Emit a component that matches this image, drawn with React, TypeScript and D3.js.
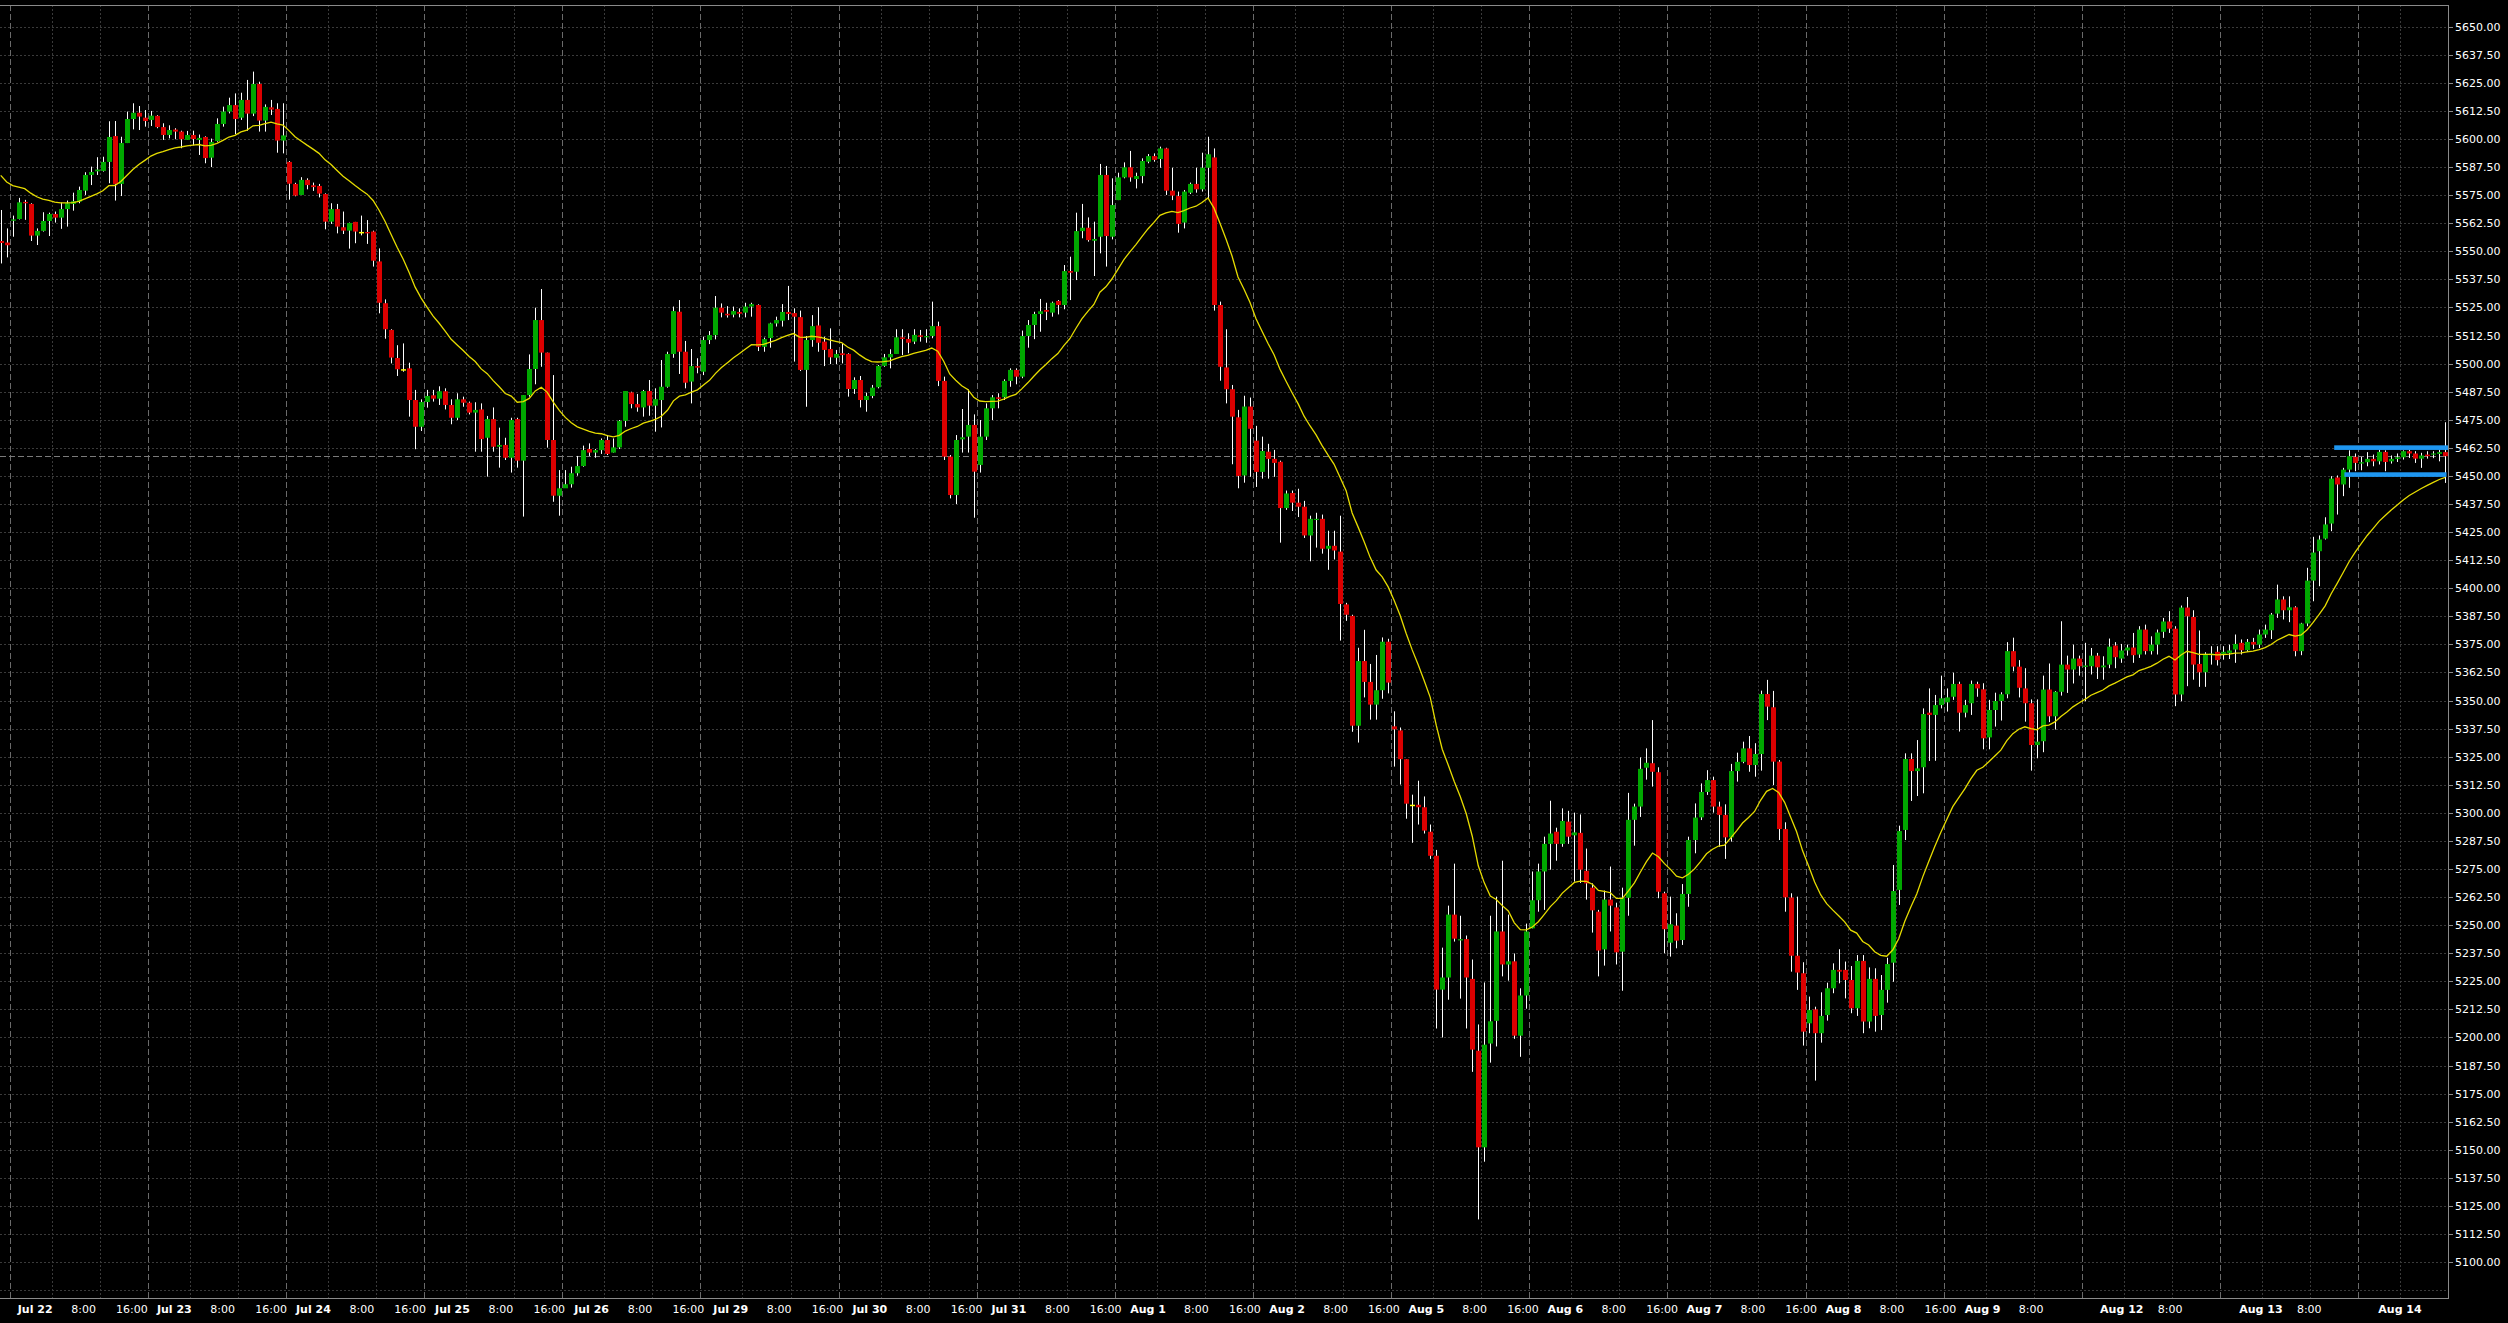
import React, { useMemo } from "react";
import * as d3 from "d3";

// ---- hourly OHLC bars, Jul 19 (late) .. Aug 14 (early) ----
const opens = [
  5554.6, 5553.9, 5563.6, 5564.4, 5572.0, 5571.1, 5557.0, 5559.1, 5563.5, 5566.6,
  5565.0, 5568.8, 5571.1, 5572.1, 5577.0, 5584.0, 5585.6, 5585.8, 5589.8, 5601.3,
  5580.0, 5598.2, 5608.9, 5611.7, 5609.5, 5608.5, 5610.3, 5605.3, 5601.8, 5604.2,
  5603.3, 5599.6, 5601.8, 5599.6, 5600.9, 5591.7, 5599.1, 5606.7, 5612.2, 5615.1,
  5609.5, 5617.4, 5611.3, 5624.5, 5608.2, 5614.1, 5613.4, 5599.3, 5589.8, 5580.0,
  5575.1, 5581.8, 5579.4, 5579.1, 5575.5, 5563.2, 5568.8, 5560.7, 5559.2, 5563.1,
  5558.3, 5558.6, 5558.8, 5545.5, 5526.9, 5515.0, 5502.5, 5497.2, 5497.9, 5483.8,
  5471.9, 5482.9, 5485.9, 5484.4, 5487.7, 5481.6, 5475.9, 5484.1, 5482.6, 5478.2,
  5479.6, 5467.0, 5475.3, 5463.0, 5463.8, 5458.1, 5475.3, 5456.8, 5486.0, 5497.6,
  5519.4, 5504.9, 5466.0, 5441.2, 5444.5, 5446.3, 5451.2, 5454.4, 5462.0, 5460.4,
  5461.5, 5466.0, 5460.4, 5462.7, 5474.5, 5487.2, 5482.0, 5480.5, 5487.8, 5481.3,
  5483.8, 5489.7, 5504.3, 5523.1, 5505.3, 5492.0, 5498.9, 5496.4, 5510.5, 5512.7,
  5524.9, 5522.2, 5521.8, 5523.0, 5522.7, 5525.4, 5526.1, 5507.5, 5511.4, 5517.9,
  5519.1, 5523.0, 5522.5, 5520.7, 5497.2, 5510.5, 5517.0, 5509.8, 5506.5, 5502.6,
  5504.6, 5504.3, 5488.7, 5492.7, 5483.8, 5485.6, 5489.5, 5499.0, 5502.8, 5504.3,
  5511.7, 5511.0, 5509.8, 5512.6, 5511.7, 5512.3, 5516.7, 5492.3, 5458.6, 5441.5,
  5466.3, 5467.5, 5472.7, 5454.9, 5467.5, 5480.1, 5485.0, 5485.0, 5492.3, 5497.2,
  5494.2, 5512.3, 5517.2, 5522.1, 5523.9, 5522.7, 5527.9, 5526.1, 5541.2, 5540.9,
  5559.0, 5560.5, 5554.7, 5556.5, 5584.0, 5556.5, 5572.8, 5582.9, 5587.4, 5582.2,
  5583.5, 5589.9, 5592.4, 5591.1, 5595.8, 5577.0, 5574.6, 5562.8, 5576.1, 5580.0,
  5577.6, 5587.2, 5591.8, 5526.1, 5498.3, 5488.6, 5476.1,
  5450.2, 5480.9, 5465.7, 5451.8, 5460.8, 5457.6, 5456.3, 5435.7, 5442.4, 5438.1,
  5436.3, 5423.5, 5430.4, 5430.9, 5417.6, 5418.9, 5416.3, 5392.8, 5387.7, 5338.8,
  5367.6, 5358.3, 5348.2, 5354.6, 5376.2, 5338.5, 5336.7, 5323.9, 5303.3, 5303.6,
  5302.5, 5291.6, 5280.9, 5221.3, 5226.7, 5254.7, 5243.2, 5243.8, 5226.1, 5194.1,
  5151.1, 5197.3, 5207.4, 5247.2, 5232.5, 5233.9, 5200.8, 5218.7, 5248.6, 5261.1,
  5273.9, 5286.2, 5291.6, 5286.2, 5296.1, 5290.0, 5291.1, 5274.2, 5266.7, 5256.0,
  5239.2, 5261.4, 5257.9, 5238.2, 5262.2, 5296.9, 5302.8, 5320.1,
  5322.1, 5318.1, 5264.2, 5242.2, 5249.8, 5243.4, 5263.9, 5287.9, 5298.0, 5309.3,
  5314.6, 5302.8, 5299.1, 5289.1, 5318.6, 5322.7, 5328.7, 5321.3, 5326.2, 5352.9,
  5347.0, 5322.8, 5292.8, 5262.3, 5236.4, 5228.6, 5206.3, 5212.5, 5201.9, 5210.0,
  5221.9, 5230.1, 5230.1, 5225.6, 5213.0, 5234.1, 5207.1, 5226.1, 5210.0, 5221.2,
  5233.3, 5265.7, 5292.4, 5324.0, 5318.6, 5320.3, 5344.6, 5343.6, 5348.0, 5349.2,
  5351.7, 5357.4, 5344.6, 5348.8, 5357.4, 5355.0, 5333.6, 5345.8, 5349.8, 5352.8,
  5372.0, 5365.1, 5355.4, 5348.8, 5330.2, 5331.9, 5354.9, 5343.0,
  5353.9, 5366.0, 5363.8, 5368.7, 5365.0, 5365.3, 5370.0, 5364.8, 5366.0, 5374.5,
  5368.7, 5372.3, 5373.6, 5370.5, 5381.6, 5372.0, 5374.9, 5380.6, 5385.2, 5382.0,
  5352.7, 5391.4, 5387.2, 5366.3, 5362.6, 5370.2, 5371.7, 5370.8, 5371.2, 5372.7,
  5375.7, 5372.4, 5376.1, 5374.9, 5379.4, 5381.3, 5388.7, 5395.0, 5390.2, 5391.5,
  5372.0, 5384.3, 5403.4, 5416.5, 5422.1, 5428.8, 5449.3, 5446.2, 5452.8, 5458.5,
  5455.5, 5456.1, 5457.6, 5456.5, 5460.7, 5456.5, 5457.6, 5458.3, 5461.0, 5460.0,
  5457.7, 5459.5, 5459.5, 5459.8, 5460.6,
];

const highs = [
  5568.4, 5560.2, 5565.9, 5573.8, 5572.9, 5571.4, 5560.2, 5567.4, 5567.2, 5567.7,
  5571.7, 5572.6, 5576.1, 5578.8, 5585.2, 5587.7, 5591.9, 5592.1, 5607.9, 5608.0,
  5601.0, 5612.2, 5615.9, 5614.7, 5612.9, 5612.5, 5610.6, 5607.0, 5606.1, 5604.8,
  5603.7, 5603.6, 5603.7, 5602.0, 5601.2, 5600.2, 5609.2, 5614.4, 5618.4, 5620.3,
  5620.6, 5626.3, 5630.0, 5625.5, 5615.4, 5617.4, 5615.9, 5615.9, 5590.2, 5580.5,
  5583.0, 5582.5, 5580.6, 5580.0, 5575.8, 5571.4, 5571.1, 5567.7, 5562.8, 5563.1,
  5565.9, 5563.9, 5559.2, 5551.3, 5528.6, 5515.3, 5508.2, 5509.0, 5500.4, 5488.3,
  5484.1, 5488.3, 5488.3, 5489.9, 5489.0, 5484.1, 5486.8, 5485.3, 5483.1, 5482.8,
  5482.3, 5476.7, 5480.5, 5471.5, 5467.0, 5475.9, 5475.9, 5486.0, 5504.1, 5524.9,
  5533.2, 5504.9, 5494.9, 5452.6, 5452.6, 5454.1, 5458.9, 5463.5, 5464.5, 5462.0,
  5466.7, 5468.2, 5466.7, 5474.9, 5487.8, 5487.5, 5486.5, 5488.3, 5492.7, 5489.0,
  5501.6, 5505.3, 5525.4, 5528.3, 5510.1, 5506.5, 5502.4, 5512.0, 5514.5, 5530.1,
  5526.8, 5525.6, 5525.4, 5524.6, 5527.1, 5527.1, 5526.4, 5511.6, 5518.2, 5520.9,
  5526.5, 5534.6, 5524.6, 5523.6, 5512.3, 5521.6, 5525.1, 5512.0, 5515.7, 5506.1,
  5509.0, 5504.6, 5493.9, 5494.5, 5487.1, 5490.5, 5499.4, 5504.3, 5506.4, 5515.3,
  5515.3, 5513.5, 5515.3, 5515.0, 5515.3, 5527.6, 5518.7, 5494.2, 5459.3, 5468.2,
  5479.8, 5488.5, 5477.4, 5474.9, 5482.3, 5486.0, 5486.8, 5493.0, 5497.9, 5497.9,
  5514.7, 5519.4, 5523.1, 5528.8, 5527.1, 5527.6, 5528.3, 5543.9, 5547.6, 5567.2,
  5571.1, 5565.1, 5563.2, 5588.9, 5588.0, 5582.5, 5585.0, 5589.6, 5594.7, 5585.0,
  5591.4, 5593.3, 5593.6, 5596.6, 5596.1, 5587.2, 5576.6, 5577.3, 5580.6, 5587.2,
  5593.9, 5601.0, 5595.8, 5527.6, 5515.3, 5490.5, 5479.4,
  5485.7, 5484.9, 5472.3, 5467.5, 5464.3, 5461.6, 5456.8, 5443.5, 5443.5, 5444.3,
  5438.9, 5432.3, 5433.6, 5432.8, 5425.6, 5425.6, 5432.3, 5393.5, 5388.2, 5373.5,
  5381.5, 5366.3, 5370.3, 5378.1, 5377.5, 5345.2, 5338.0, 5323.9, 5308.1, 5314.3,
  5307.3, 5294.8, 5283.5, 5240.0, 5258.7, 5277.4, 5254.2, 5245.4, 5234.7, 5205.8,
  5224.5, 5254.2, 5262.7, 5278.7, 5254.7, 5237.4, 5221.9, 5250.7, 5273.9, 5277.4,
  5289.4, 5305.4, 5293.4, 5302.0, 5300.9, 5300.1, 5299.3, 5284.1, 5268.6, 5256.8,
  5265.4, 5276.1, 5260.0, 5266.7, 5308.9, 5304.1, 5324.7, 5328.7,
  5341.3, 5320.3, 5264.9, 5262.7, 5255.3, 5268.3, 5289.4, 5304.2, 5313.1, 5319.0,
  5316.1, 5305.0, 5303.8, 5321.8, 5326.8, 5331.7, 5334.2, 5331.0, 5354.4, 5359.2,
  5354.3, 5323.5, 5295.8, 5264.2, 5262.7, 5233.5, 5218.2, 5213.7, 5220.1, 5224.4,
  5233.0, 5239.3, 5233.8, 5231.8, 5236.7, 5236.7, 5231.2, 5230.8, 5227.8, 5235.5,
  5276.8, 5294.3, 5326.5, 5326.5, 5332.4, 5346.5, 5355.4, 5352.5, 5361.1, 5355.4,
  5362.4, 5358.4, 5350.3, 5358.9, 5358.4, 5357.7, 5350.3, 5353.5, 5353.7, 5376.0,
  5378.0, 5368.0, 5364.4, 5350.5, 5350.5, 5361.1, 5366.5, 5354.2,
  5385.3, 5370.0, 5374.9, 5370.0, 5375.7, 5373.4, 5371.2, 5369.7, 5377.6, 5376.0,
  5375.2, 5374.9, 5380.1, 5383.1, 5383.8, 5378.6, 5381.6, 5386.8, 5389.8, 5383.1,
  5392.3, 5396.1, 5390.2, 5381.2, 5371.5, 5374.2, 5374.2, 5374.2, 5374.9, 5379.4,
  5377.2, 5377.4, 5377.9, 5381.6, 5383.8, 5389.0, 5401.6, 5396.4, 5396.4, 5392.0,
  5384.6, 5409.1, 5422.9, 5423.5, 5431.6, 5449.9, 5450.2, 5453.6, 5461.4, 5460.0,
  5458.5, 5460.6, 5459.5, 5461.7, 5461.4, 5459.1, 5460.0, 5461.4, 5461.7, 5461.0,
  5460.3, 5461.0, 5461.0, 5461.7, 5473.9,
];

const lows = [
  5544.6, 5547.3, 5556.5, 5564.2, 5564.0, 5554.6, 5552.8, 5558.8, 5556.8, 5562.8,
  5560.0, 5561.0, 5568.1, 5571.4, 5575.1, 5579.5, 5584.0, 5585.5, 5580.3, 5572.6,
  5574.6, 5598.2, 5604.3, 5604.0, 5605.5, 5605.8, 5604.8, 5599.6, 5600.3, 5599.9,
  5595.9, 5599.6, 5597.2, 5592.9, 5589.2, 5587.5, 5598.8, 5605.5, 5611.4, 5602.2,
  5608.5, 5603.7, 5610.2, 5603.3, 5603.3, 5610.7, 5593.9, 5593.6, 5573.0, 5574.5,
  5575.1, 5577.6, 5576.9, 5574.0, 5559.8, 5562.2, 5558.0, 5557.7, 5551.2, 5553.6,
  5557.1, 5553.3, 5543.2, 5522.4, 5511.1, 5500.1, 5494.5, 5496.4, 5476.4, 5461.9,
  5470.0, 5480.4, 5483.1, 5481.6, 5479.6, 5473.0, 5474.9, 5480.8, 5477.4, 5460.8,
  5460.8, 5449.7, 5460.8, 5453.7, 5457.1, 5451.5, 5453.7, 5431.9, 5485.3, 5490.8,
  5498.6, 5462.6, 5438.5, 5432.3, 5444.8, 5444.8, 5450.1, 5454.1, 5458.9, 5458.1,
  5459.8, 5459.3, 5460.4, 5462.0, 5471.9, 5480.1, 5478.6, 5476.4, 5476.8, 5469.7,
  5471.6, 5489.3, 5502.6, 5495.4, 5489.0, 5482.3, 5495.7, 5494.9, 5508.7, 5510.8,
  5520.6, 5520.5, 5520.6, 5520.6, 5520.6, 5520.9, 5505.6, 5505.3, 5507.1, 5516.5,
  5516.5, 5519.4, 5500.9, 5496.7, 5480.8, 5507.5, 5505.3, 5498.9, 5499.8, 5499.8,
  5500.1, 5485.3, 5486.5, 5480.5, 5478.6, 5484.6, 5489.0, 5498.6, 5497.9, 5504.3,
  5503.8, 5504.6, 5508.7, 5509.8, 5509.3, 5511.3, 5490.0, 5457.1, 5440.0, 5437.5,
  5460.4, 5460.4, 5431.4, 5451.5, 5466.0, 5474.9, 5480.1, 5483.8, 5489.7, 5490.8,
  5493.5, 5507.1, 5510.9, 5514.2, 5519.4, 5520.9, 5521.9, 5524.2, 5528.3, 5537.2,
  5555.8, 5554.3, 5539.0, 5549.1, 5543.2, 5555.3, 5572.8, 5582.5, 5581.0, 5578.0,
  5580.3, 5589.2, 5589.9, 5587.2, 5575.1, 5572.8, 5558.3, 5560.2, 5575.5, 5576.1,
  5576.6, 5573.6, 5523.6, 5492.4, 5482.3, 5455.2, 5444.5,
  5447.0, 5449.6, 5445.1, 5448.8, 5448.8, 5449.6, 5420.3, 5434.9, 5434.4, 5431.7,
  5422.4, 5412.0, 5418.1, 5415.4, 5408.2, 5412.8, 5376.7, 5385.5, 5336.1, 5331.3,
  5351.4, 5341.5, 5341.5, 5350.8, 5353.2, 5320.6, 5312.6, 5297.4, 5286.7, 5294.8,
  5290.8, 5279.5, 5204.0, 5200.0, 5216.8, 5242.7, 5217.3, 5204.0, 5184.7, 5119.0,
  5144.7, 5188.8, 5196.0, 5227.2, 5225.3, 5199.4, 5191.4, 5212.8, 5248.6, 5256.0,
  5256.8, 5274.7, 5278.7, 5284.9, 5286.2, 5269.4, 5268.8, 5261.4, 5246.7, 5227.2,
  5232.0, 5247.2, 5232.5, 5220.8, 5254.2, 5285.4, 5298.2, 5314.8,
  5311.7, 5262.0, 5237.5, 5236.0, 5239.7, 5241.2, 5258.2, 5282.0, 5296.8, 5308.0,
  5300.1, 5284.9, 5279.5, 5287.2, 5313.9, 5322.1, 5318.3, 5316.1, 5318.8, 5341.3,
  5312.4, 5287.9, 5256.0, 5229.3, 5221.2, 5196.4, 5201.9, 5180.8, 5197.7, 5207.5,
  5219.7, 5224.1, 5217.4, 5210.8, 5209.6, 5201.9, 5204.1, 5202.6, 5203.3, 5215.5,
  5224.8, 5259.0, 5287.9, 5305.3, 5307.5, 5308.7, 5323.1, 5323.2, 5346.5, 5345.1,
  5350.3, 5336.2, 5342.5, 5343.6, 5351.7, 5328.3, 5328.3, 5338.4, 5341.1, 5351.0,
  5363.0, 5351.4, 5340.6, 5318.8, 5324.3, 5327.0, 5340.4, 5337.1,
  5352.2, 5353.4, 5357.6, 5361.1, 5349.7, 5361.6, 5359.6, 5359.3, 5364.4, 5364.4,
  5366.8, 5370.0, 5366.8, 5369.0, 5370.5, 5370.5, 5370.5, 5377.9, 5380.1, 5347.5,
  5349.7, 5356.4, 5359.3, 5356.1, 5356.1, 5366.0, 5365.6, 5368.2, 5368.5, 5366.8,
  5370.5, 5371.7, 5373.0, 5373.4, 5377.9, 5377.4, 5386.8, 5386.1, 5384.9, 5369.7,
  5370.2, 5383.1, 5394.2, 5400.9, 5421.7, 5425.4, 5432.8, 5441.0, 5444.7, 5452.1,
  5452.5, 5454.3, 5454.3, 5455.1, 5452.1, 5455.5, 5456.2, 5457.3, 5458.0, 5455.8,
  5453.6, 5457.7, 5457.9, 5456.5, 5446.9,
];

const closes = [
  5553.7, 5552.7, 5564.2, 5571.8, 5571.4, 5557.0, 5559.1, 5563.5, 5566.6, 5565.0,
  5568.8, 5571.4, 5572.3, 5577.3, 5584.0, 5585.3, 5586.4, 5589.8, 5600.9, 5580.0,
  5598.2, 5608.9, 5611.7, 5610.0, 5608.0, 5610.4, 5605.3, 5601.8, 5604.0, 5603.3,
  5599.9, 5601.8, 5600.0, 5600.5, 5591.5, 5598.7, 5606.7, 5612.2, 5615.1, 5608.9,
  5617.4, 5611.3, 5624.5, 5608.2, 5614.3, 5613.1, 5599.3, 5601.6, 5580.1, 5574.8,
  5581.8, 5579.5, 5578.6, 5575.7, 5563.2, 5568.8, 5561.0, 5559.2, 5562.6, 5558.8,
  5558.3, 5558.0, 5545.8, 5527.1, 5515.3, 5502.7, 5497.5, 5497.2, 5483.8, 5471.9,
  5482.9, 5485.6, 5484.4, 5487.7, 5481.6, 5475.9, 5484.1, 5482.6, 5478.2, 5479.4,
  5466.4, 5475.3, 5463.0, 5463.8, 5458.1, 5474.9, 5456.8, 5486.0, 5497.6, 5519.4,
  5504.9, 5466.0, 5441.2, 5444.5, 5446.3, 5451.2, 5454.4, 5461.5, 5460.4, 5461.5,
  5466.0, 5459.8, 5462.7, 5474.5, 5487.8, 5482.0, 5480.5, 5487.8, 5481.3, 5484.2,
  5489.7, 5504.3, 5523.4, 5505.3, 5491.5, 5498.9, 5498.2, 5510.5, 5512.7, 5524.9,
  5522.7, 5521.5, 5523.4, 5522.2, 5525.4, 5526.5, 5507.5, 5510.9, 5517.9, 5519.4,
  5523.0, 5522.1, 5520.9, 5497.2, 5510.5, 5516.7, 5509.3, 5506.1, 5502.8, 5504.3,
  5503.8, 5488.7, 5492.7, 5483.8, 5485.6, 5489.3, 5499.0, 5502.8, 5504.3, 5511.7,
  5511.0, 5509.3, 5512.8, 5511.9, 5512.3, 5516.7, 5492.3, 5458.6, 5441.5, 5466.0,
  5467.2, 5472.7, 5451.9, 5467.5, 5480.1, 5485.0, 5484.3, 5492.3, 5497.2, 5494.2,
  5512.3, 5517.2, 5522.1, 5523.3, 5523.1, 5527.1, 5526.1, 5541.2, 5540.5, 5559.0,
  5560.5, 5555.0, 5555.5, 5584.0, 5556.8, 5570.6, 5582.9, 5587.4, 5582.9, 5583.5,
  5590.2, 5592.4, 5590.7, 5595.8, 5577.0, 5574.8, 5562.2, 5576.6, 5580.0, 5577.6,
  5587.2, 5593.2, 5526.1, 5498.6, 5488.6, 5476.4, 5450.0,
  5480.9, 5471.0, 5451.8, 5461.1, 5457.6, 5455.8, 5435.7, 5442.2, 5438.1, 5436.3,
  5423.5, 5430.9, 5430.9, 5417.6, 5418.9, 5416.8, 5393.0, 5388.2, 5338.8, 5367.6,
  5358.3, 5348.2, 5354.6, 5376.2, 5358.0, 5337.2, 5323.9, 5304.1, 5303.3, 5302.5,
  5292.1, 5280.9, 5221.3, 5226.7, 5254.7, 5244.0, 5243.8, 5226.7, 5194.6, 5151.1,
  5196.8, 5207.2, 5247.2, 5232.5, 5233.9, 5200.8, 5218.7, 5247.2, 5261.1, 5273.9,
  5286.2, 5290.8, 5286.2, 5296.4, 5289.4, 5291.3, 5274.7, 5268.6, 5256.6, 5238.7,
  5261.4, 5258.7, 5237.9, 5262.2, 5296.9, 5302.8, 5319.6, 5322.3,
  5318.3, 5264.9, 5248.2, 5250.4, 5243.1, 5263.9, 5287.9, 5297.9, 5309.3, 5314.6,
  5302.8, 5299.1, 5289.1, 5318.6, 5322.7, 5328.7, 5321.3, 5326.2, 5352.9, 5347.3,
  5322.8, 5292.8, 5262.4, 5236.4, 5228.9, 5202.6, 5212.2, 5201.9, 5209.6, 5221.9,
  5230.1, 5229.3, 5225.6, 5213.0, 5234.1, 5207.1, 5226.1, 5209.6, 5221.2, 5232.7,
  5265.2, 5291.9, 5324.0, 5318.6, 5319.8, 5344.0, 5343.6, 5348.0, 5351.0, 5351.4,
  5357.4, 5344.6, 5348.0, 5357.4, 5355.4, 5333.2, 5345.8, 5349.8, 5352.8, 5372.0,
  5365.1, 5355.7, 5348.8, 5330.2, 5331.7, 5354.9, 5343.0, 5353.9,
  5366.0, 5363.8, 5368.7, 5365.3, 5365.6, 5370.0, 5364.8, 5365.6, 5374.0, 5369.3,
  5372.3, 5373.6, 5370.2, 5381.6, 5372.0, 5374.9, 5380.3, 5385.2, 5382.0, 5352.7,
  5391.4, 5387.5, 5366.0, 5362.6, 5370.8, 5370.9, 5368.0, 5371.7, 5372.3, 5375.2,
  5372.4, 5376.1, 5374.9, 5379.4, 5381.6, 5388.3, 5395.0, 5390.2, 5391.5, 5372.0,
  5384.3, 5403.4, 5415.9, 5421.7, 5428.4, 5448.8, 5446.2, 5452.8, 5458.8, 5455.8,
  5456.1, 5457.6, 5456.5, 5460.7, 5456.2, 5457.6, 5458.3, 5461.0, 5460.0, 5457.7,
  5459.1, 5458.8, 5460.0, 5460.6, 5458.8,
];

// ---- axis labels ----
const dayLabels = [
  "Jul 22", "Jul 23", "Jul 24", "Jul 25", "Jul 26", "Jul 29", "Jul 30", "Jul 31",
  "Aug 1", "Aug 2", "Aug 5", "Aug 6", "Aug 7", "Aug 8", "Aug 9", "Aug 12", "Aug 13", "Aug 14",
];
const sessionLabels = ["8:00", "16:00"];
const daysWithoutLateLabel = ["Aug 9", "Aug 12", "Aug 13", "Aug 14"];
const barsPerDay = 23;
const firstDayBar = 8.5; // bar-index position of the "Jul 22" grid line
const sessionOffsets = [8, 16]; // bars after day start for 8:00 / 16:00

// ---- indicator & drawn levels ----
const emaPeriod = 20;
const emaSeed = 5587; // EMA value just before the first visible bar
const levelLines = [
  { price: 5462.6, from: 388.5, to: 407.9 },
  { price: 5450.6, from: 390.2, to: 407.2 },
];

const W = 2508;
const H = 1323;
const plotRight = 2448;
const plotTop = 5;
const plotBottom = 1298;

const UP = "#00a800";
const DOWN = "#dc0000";
const GRID = "#3a3a3a";
const SEP = "#6a6a6a";
const AXIS = "#8a8a8a";
const FONT = "'DejaVu Sans', Tahoma, sans-serif";

export default function App() {
  const n = closes.length;
  const x = useMemo(() => d3.scaleLinear().domain([0, n - 1]).range([0.7, 2445.3]), [n]);
  // time-scale labels are laid out on a slightly wider pitch than the bars
  const xLabel = useMemo(
    () => d3.scaleLinear().domain([0, n - 1]).range([-16.2, -16.2 + 6.048 * (n - 1)]),
    [n]
  );
  const y = useMemo(() => d3.scaleLinear().domain([5100, 5650]).range([1262.1, 26.7]), []);

  const ema = useMemo(() => {
    const k = 2 / (emaPeriod + 1);
    const out: number[] = [];
    let prev = emaSeed;
    for (let i = 0; i < closes.length; i++) {
      prev = prev + k * (closes[i] - prev);
      out.push(prev);
    }
    return out;
  }, []);

  const priceTicks = d3.range(5087.5, 5662.6, 12.5).filter((p) => {
    const yy = y(p);
    return yy > plotTop + 2 && yy < plotBottom - 2;
  });

  const gridIdx: number[] = [];
  const sepIdx: number[] = [];
  const timeTicks: { idx: number; text: string; bold: boolean }[] = [];
  dayLabels.forEach((d, k) => {
    const base = firstDayBar + barsPerDay * k;
    gridIdx.push(base);
    timeTicks.push({ idx: base, text: d, bold: true });
    sessionOffsets.forEach((off, j) => {
      const idx = base + off;
      if (idx > n - 1) return;
      if (j === 1) sepIdx.push(idx);
      else gridIdx.push(idx);
      if (j === 1 && daysWithoutLateLabel.includes(d)) return;
      timeTicks.push({ idx, text: sessionLabels[j], bold: false });
    });
  });
  sepIdx.push(firstDayBar - 7);

  const line = d3
    .line<number>()
    .x((_, i) => x(i))
    .y((v) => y(v));

  const lastClose = closes[n - 1];
  const px = (v: number) => Math.round(v) + 0.5;

  return (
    <svg
      width={W}
      height={H}
      style={{ position: "absolute", left: 0, top: 0, display: "block", background: "#000" }}
    >
      <rect x={0} y={0} width={W} height={H} fill="#000" />
      {/* horizontal grid */}
      {priceTicks.map((p) => (
        <line
          key={"h" + p}
          x1={0}
          x2={plotRight}
          y1={px(y(p))}
          y2={px(y(p))}
          stroke={GRID}
          strokeDasharray="2,2"
        />
      ))}
      {/* vertical grid */}
      {gridIdx.map((g) => (
        <line
          key={"v" + g}
          x1={px(x(g))}
          x2={px(x(g))}
          y1={plotTop}
          y2={plotBottom}
          stroke={GRID}
          strokeDasharray="2,2"
        />
      ))}
      {sepIdx.map((g) => (
        <line
          key={"s" + g}
          x1={px(x(g))}
          x2={px(x(g))}
          y1={plotTop}
          y2={plotBottom}
          stroke={SEP}
          strokeDasharray="6,3"
        />
      ))}
      {/* last price line */}
      <line
        x1={0}
        x2={plotRight}
        y1={px(y(lastClose))}
        y2={px(y(lastClose))}
        stroke="#7a7a7a"
        strokeDasharray="6,3"
      />
      {/* candles */}
      {closes.map((c, i) => {
        const o = opens[i];
        const cx = Math.round(x(i));
        const top = Math.min(y(o), y(c));
        const bot = Math.max(y(o), y(c));
        const doji = Math.abs(o - c) < 0.05;
        const color = doji ? "#ffff00" : c > o ? UP : DOWN;
        return (
          <g key={"c" + i}>
            <line
              x1={cx + 0.5}
              x2={cx + 0.5}
              y1={y(highs[i])}
              y2={y(lows[i])}
              stroke="#ffffff"
              strokeWidth={1}
            />
            <rect
              x={cx - 2}
              y={doji ? top - 0.75 : top}
              width={5}
              height={doji ? 1.5 : Math.max(1.2, bot - top)}
              fill={color}
            />
          </g>
        );
      })}
      {/* EMA */}
      <path d={line(ema) || ""} fill="none" stroke="#e6dc00" strokeWidth={1.3} />
      {/* levels */}
      {levelLines.map((l, i) => (
        <rect
          key={"l" + i}
          x={x(l.from)}
          y={y(l.price) - 2.3}
          width={x(l.to) - x(l.from)}
          height={4.6}
          fill="#1e96f0"
        />
      ))}
      {/* frame & axes */}
      <rect x={0} y={0} width={W} height={plotTop} fill="#000" />
      <rect x={plotRight + 1} y={0} width={W - plotRight} height={H} fill="#000" />
      <rect x={0} y={plotBottom + 1} width={W} height={H - plotBottom} fill="#000" />
      <line x1={0} x2={plotRight + 0.5} y1={plotTop + 0.5} y2={plotTop + 0.5} stroke={AXIS} />
      <line x1={plotRight + 0.5} x2={plotRight + 0.5} y1={plotTop} y2={plotBottom + 1} stroke={AXIS} />
      <line x1={0} x2={plotRight + 1} y1={plotBottom + 0.5} y2={plotBottom + 0.5} stroke={AXIS} />
      {priceTicks
        .filter((p) => p >= 5100 && p <= 5650)
        .map((p) => (
          <g key={"t" + p}>
            <line x1={plotRight + 1} x2={plotRight + 5} y1={px(y(p))} y2={px(y(p))} stroke={AXIS} />
            <text x={2455} y={y(p) + 4} fill="#ffffff" fontFamily={FONT} fontSize={11}>
              {p.toFixed(2)}
            </text>
          </g>
        ))}
      {timeTicks.map((t) => (
        <text
          key={"x" + t.idx}
          x={xLabel(t.idx)}
          y={1313}
          fill="#ffffff"
          fontFamily={FONT}
          fontSize={11}
          fontWeight={t.bold ? "bold" : "normal"}
          textAnchor="middle"
        >
          {t.text}
        </text>
      ))}
    </svg>
  );
}
